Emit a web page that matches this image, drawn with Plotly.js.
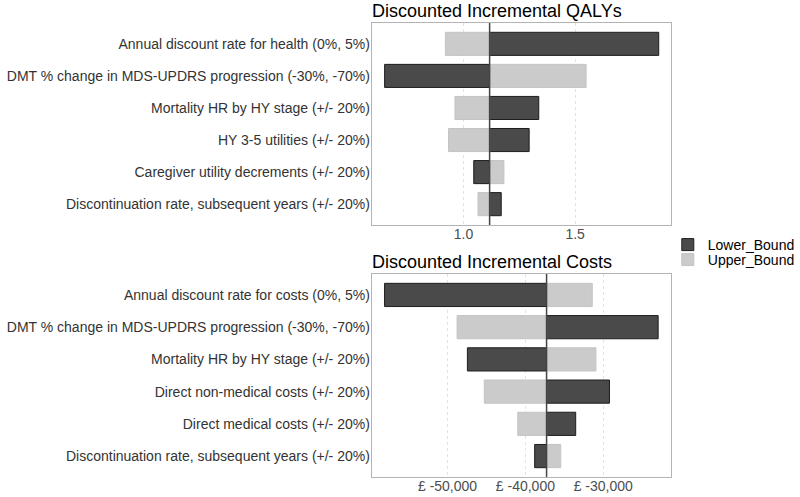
<!DOCTYPE html>
<html>
<head>
<meta charset="utf-8">
<script src="https://cdn.plot.ly/plotly-3.0.1.min.js"></script>
<style>html,body{margin:0;padding:0;background:#fff;}#chart{width:800px;height:497px;}</style>
</head>
<body>
<div id="chart"></div>
<script>
// ---- Data ----
const qalyCategories = [
  "Annual discount rate for health (0%, 5%)",
  "DMT % change in MDS-UPDRS progression (-30%, -70%)",
  "Mortality HR by HY stage (+/- 20%)",
  "HY 3-5 utilities (+/- 20%)",
  "Caregiver utility decrements (+/- 20%)",
  "Discontinuation rate, subsequent years (+/- 20%)"
];
const qalyBase = 1.117;
const qalyLower = [1.874, 0.647, 1.337, 1.294, 1.046, 1.169];
const qalyUpper = [0.919, 1.549, 0.962, 0.933, 1.181, 1.065];
const qalyTickVals = [1.0, 1.5];
const qalyTickText = ["1.0", "1.5"];

const costCategories = [
  "Annual discount rate for costs (0%, 5%)",
  "DMT % change in MDS-UPDRS progression (-30%, -70%)",
  "Mortality HR by HY stage (+/- 20%)",
  "Direct non-medical costs (+/- 20%)",
  "Direct medical costs (+/- 20%)",
  "Discontinuation rate, subsequent years (+/- 20%)"
];
const costBase = -37280;
const costLower = [-58090, -22950, -47450, -29200, -33540, -38810];
const costUpper = [-31410, -48770, -30940, -45280, -40980, -35460];
const costTickVals = [-50000, -40000, -30000];
const costTickText = ["£ -50,000", "£ -40,000", "£ -30,000"];

const seriesNames = ["Lower_Bound", "Upper_Bound"];

// ---- Styles ----
const FONT = "Liberation Sans, Arial, sans-serif";
const darkFill = "#4a4a4a", darkLine = "#1e1e1e";
const lightFill = "#cbcbcb", lightLine = "#c4c4c4";

function barTrace(cats, vals, base, name, fill, line, xa, ya, show, leg) {
  return {
    type: "bar", orientation: "h",
    y: cats, x: vals.map(v => v - base), base: vals.map(() => base),
    name: name, width: 0.72,
    marker: {color: fill, line: {color: line, width: 1}},
    xaxis: xa, yaxis: ya, showlegend: show, legendgroup: name, legend: leg,
    hoverinfo: "skip"
  };
}

const data = [
  barTrace(qalyCategories, qalyLower, qalyBase, seriesNames[0], darkFill, darkLine, "x", "y", true, "legend"),
  barTrace(qalyCategories, qalyUpper, qalyBase, seriesNames[1], lightFill, lightLine, "x", "y", true, "legend2"),
  barTrace(costCategories, costLower, costBase, seriesNames[0], darkFill, darkLine, "x2", "y2", false, "legend"),
  barTrace(costCategories, costUpper, costBase, seriesNames[1], lightFill, lightLine, "x2", "y2", false, "legend2")
];

const xCommon = {
  showline: true, mirror: true, linecolor: "#b3b3b3", linewidth: 1,
  showgrid: true, gridcolor: "#e3e3e3", griddash: "dot", gridwidth: 1,
  zeroline: false, ticks: "", ticklabelstandoff: -4,
  tickfont: {family: FONT, size: 14, color: "#4d4d4d"}, tickmode: "array"
};
const yCommon = {
  type: "category", categoryorder: "array",
  showline: true, mirror: true, linecolor: "#b3b3b3", linewidth: 1,
  showgrid: false, zeroline: false, ticks: "", ticklabelstandoff: -2,
  tickfont: {family: FONT, size: 14, color: "#333333"},
  range: [5.65, -0.65], autorange: false
};

const legCommon = {xanchor: "left", yanchor: "top", bgcolor: "rgba(0,0,0,0)",
  font: {family: FONT, size: 14, color: "#000000"}};

const XL = 374, XR = 675;

const layout = {
  width: 800, height: 497,
  margin: {l: 0, r: 0, t: 0, b: 0},
  paper_bgcolor: "#ffffff", plot_bgcolor: "#ffffff",
  barmode: "overlay",
  font: {family: FONT, color: "#333333"},
  xaxis: Object.assign({}, xCommon, {domain: [XL/800, XR/800], anchor: "y",
    range: [0.589, 1.928], tickvals: qalyTickVals, ticktext: qalyTickText}),
  yaxis: Object.assign({}, yCommon, {domain: [1 - 225/497, 1 - 23/497], anchor: "x",
    categoryarray: qalyCategories}),
  xaxis2: Object.assign({}, xCommon, {domain: [XL/800, XR/800], anchor: "y2",
    range: [-59745, -21327], tickvals: costTickVals, ticktext: costTickText}),
  yaxis2: Object.assign({}, yCommon, {domain: [1 - 477/497, 1 - 274/497], anchor: "x2",
    categoryarray: costCategories}),
  shapes: [
    {type: "line", xref: "x", yref: "y domain", x0: qalyBase, x1: qalyBase, y0: 0, y1: 1,
     line: {color: "#444444", width: 1.5}},
    {type: "line", xref: "x2", yref: "y2 domain", x0: costBase, x1: costBase, y0: 0, y1: 1,
     line: {color: "#444444", width: 1.5}}
  ],
  annotations: [
    {text: "Discounted Incremental QALYs", xref: "paper", yref: "paper",
     x: 372/800, y: 1 - 23/497, xanchor: "left", yanchor: "bottom", showarrow: false,
     font: {family: FONT, size: 18, color: "#000000"}},
    {text: "Discounted Incremental Costs", xref: "paper", yref: "paper",
     x: 372/800, y: 1 - 274/497, xanchor: "left", yanchor: "bottom", showarrow: false,
     font: {family: FONT, size: 18, color: "#000000"}}
  ],
  legend: Object.assign({}, legCommon, {x: 672/800, y: 1 - 229/497}),
  legend2: Object.assign({}, legCommon, {x: 672/800, y: 1 - 244/497}),
  showlegend: true
};

Plotly.newPlot("chart", data, layout, {staticPlot: true, displayModeBar: false});
</script>
</body>
</html>
